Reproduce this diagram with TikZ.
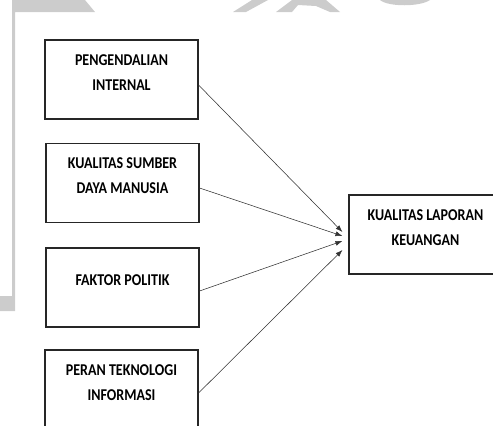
\documentclass[tikz,border=0pt]{standalone}
\usepackage{fontspec}
\setmainfont{Carlito}
\newfontfamily\boxfont[FakeStretch=0.85]{Carlito}
\usetikzlibrary{arrows.meta}
\tikzset{%
  vbox/.style={%
    draw=black!85,
    line width=1.1pt,
    minimum width=153pt,
    minimum height=79pt,
    align=center,
    text depth=14pt,
    font=\boxfont\fontsize{16.5}{25}\selectfont\bfseries
  },
  ptr/.style={%
    -{Latex[length=7pt,width=5pt]},
    draw=black!80,
    line width=0.55pt
  }
}

\begin{document}
\begin{tikzpicture}[x=1pt,y=-1pt]
    \useasboundingbox (0,0) rectangle (493,426);
    % page edge and watermark
    \fill[black!20] (13,0) -- (85,0) -- (95,12) -- (15,12) -- (15,296) -- (0,296) -- (0,311) -- (15,311) -- (15,296) -- (12,296) -- (12,0) -- cycle;
    \fill[black!20] (233,12) -- (252,0) -- (268,0) -- (246,12) -- cycle;
    \fill[black!20] (276,12) -- (292,0) -- (326,0) -- (340,12) -- (330,12) -- (316,6) -- (298,5) -- (292,12) -- cycle;
    \fill[black!20] (380,0) .. controls (388,7) and (420,7) .. (430,0) -- cycle;

    % variables
    \node[vbox] (pi) at (121.5,79.5) {PENGENDALIAN\\INTERNAL};
    \node[vbox] (ksdm) at (122.5,183) {KUALITAS SUMBER\\DAYA MANUSIA};
    \node[vbox] (fp) at (122.5,287.5) {FAKTOR POLITIK};
    \node[vbox] (pti) at (121.5,389.5) {PERAN TEKNOLOGI\\INFORMASI};
    \node[vbox] (klk) at (425.5,234.5) {KUALITAS LAPORAN\\KEUANGAN};

    % arrow ends
    \coordinate (e1) at ([xshift=-6pt,yshift=2.5pt]klk.west);
    \coordinate (e2) at ([xshift=-6pt,yshift=-1.5pt]klk.west);
    \coordinate (e3) at ([xshift=-6pt,yshift=-6.5pt]klk.west);
    \coordinate (e4) at ([xshift=-6pt,yshift=-15.5pt]klk.west);

    \draw[ptr] ([yshift=-5.5pt]pi.east) -- (e1);
    \draw[ptr] ([yshift=-5pt]ksdm.east) -- (e2);
    \draw[ptr] ([yshift=-3.5pt]fp.east) -- (e3);
    \draw[ptr] ([yshift=-3.5pt]pti.east) -- (e4);
\end{tikzpicture}
\end{document}
